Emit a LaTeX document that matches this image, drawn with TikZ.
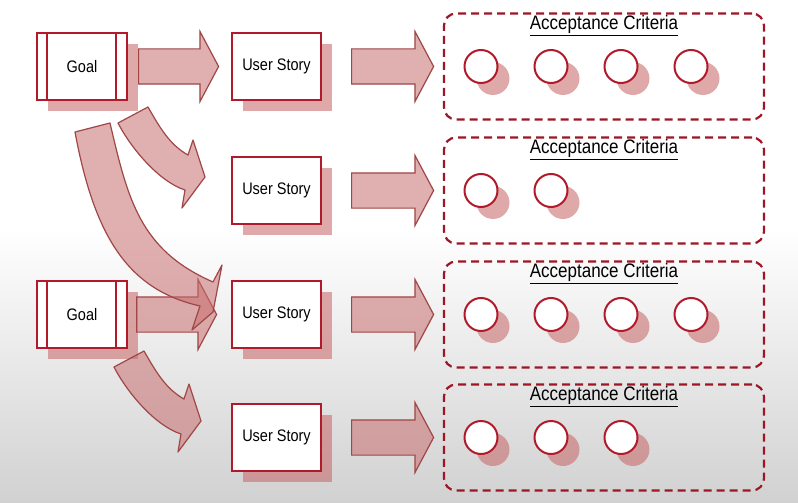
\documentclass[tikz,border=0pt]{standalone}
\usepackage{fontspec}
\setmainfont{Liberation Sans}
\usetikzlibrary{shapes.arrows,shadows}

\definecolor{boxred}{RGB}{176,26,42}
\definecolor{dashred}{RGB}{158,22,38}
\definecolor{shadowred}{RGB}{200,100,100}
\definecolor{arrowfill}{RGB}{200,110,110}
\definecolor{arrowline}{RGB}{160,70,70}
\newcommand{\talltext}[1]{\scalebox{1}[1.15]{#1}}

\tikzset{
  storybox/.style={draw=boxred, line width=2pt, fill=white, minimum width=89pt, minimum height=67pt,
    inner sep=0pt, font=\fontsize{14.5}{16}\selectfont,
    drop shadow={shadow xshift=11pt, shadow yshift=-11pt, fill=shadowred, opacity=.55}},
  goalbox/.style={storybox, minimum width=90pt},
  blockarr/.style={single arrow, draw=arrowline, line width=1.2pt, fill=arrowfill, fill opacity=.55,
    inner xsep=0pt, inner ysep=17pt, single arrow head extend=17.5pt, single arrow tip angle=124,
    minimum height=80pt, anchor=tail},
  bentarr/.style={draw=arrowline, line width=1.2pt, fill=arrowfill, fill opacity=.55, line join=round},
  critbox/.style={draw=dashred, line width=2.2pt, dash pattern=on 8pt off 5pt, rounded corners=12pt,
    minimum width=320pt, minimum height=106pt},
  crittitle/.style={font=\fontsize{17}{19}\selectfont},
  critcircle/.style={circle, draw=boxred, line width=2pt, fill=white, minimum size=33pt, inner sep=0pt,
    drop shadow={shadow xshift=12pt, shadow yshift=-12pt, fill=shadowred, opacity=.55}}
}

\begin{document}
\begin{tikzpicture}[x=1pt,y=-1pt]
\useasboundingbox (0,0) rectangle (798,503);
\fill[white] (0,0) rectangle (798,230);
\shade[top color=white, bottom color=black!18] (0,229) rectangle (798,503);

\node[goalbox] (goal1) at (82,66.5) {\talltext{Goal}};
\node[goalbox] (goal2) at (82,314.5) {\talltext{Goal}};
\foreach \g in {goal1,goal2}{
  \draw[boxred, line width=2pt] ([xshift=11pt]\g.north west) -- ([xshift=11pt]\g.south west)
    ([xshift=-12pt]\g.north east) -- ([xshift=-12pt]\g.south east);
}

\foreach \r/\y/\n in {1/66.5/4,2/190.5/2,3/314.5/4,4/437.5/3}{
  \node[storybox] (us\r) at (276.5,\y) {\talltext{User Story}};
  \node[blockarr, minimum height=82pt] (ua\r) at ([xshift=29pt]us\r.east) {};
  \node[critbox] (ac\r) at (604,\y) {};
  \node[crittitle] (act\r) at (604,{\y-41}) {\talltext{\underline{Acceptance Criteria}}};
  \foreach \k in {1,...,\n}
    \node[critcircle] (c\r\k) at ({411+70*\k},\y) {};
}

\node[blockarr] (ga1) at ([xshift=10pt]goal1.east) {};
\node[blockarr] (ga2) at ([xshift=8pt]goal2.east) {};

\foreach \s in {0,1}{
  \draw[bentarr, shift={({-4*\s},{244*\s})}] (118,123) -- (148,107)
    .. controls (160,128) and (170,145) .. (188,155) -- (193,140) -- (205,177) -- (182,208) -- (185,190)
    .. controls (160,182) and (132,150) .. (118,123) -- cycle;
}
\draw[bentarr] (75,132) -- (110,123) .. controls (128,200) and (140,250) .. (213,282)
  -- (222,265) -- (213,312) -- (192,330) -- (200,306)
  .. controls (130,290) and (95,240) .. (75,132) -- cycle;
\end{tikzpicture}
\end{document}
